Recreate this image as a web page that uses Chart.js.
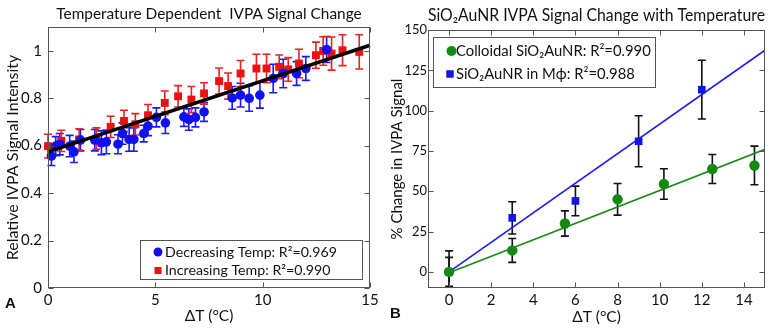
<!DOCTYPE html>
<html>
<head>
<meta charset="utf-8">
<script src="https://cdn.jsdelivr.net/npm/chart.js@4.4.0/dist/chart.umd.min.js"></script>
<style>
  body { margin: 0; background: #fff; }
  .panel { position: absolute; top: 0; height: 330px; }
  #boxA { left: 0; width: 388px; }
  #boxB { left: 388px; width: 385px; }
  .tag { position: absolute; font: bold 15px "Liberation Sans", Arial, sans-serif; line-height: 15px; color: #111; }
</style>
</head>
<body>
<div id="boxA" class="panel"><canvas id="chartA" width="388" height="330"></canvas></div>
<div id="boxB" class="panel"><canvas id="chartB" width="385" height="330"></canvas></div>
<div class="tag" style="left:5px; top:295px">A</div>
<div class="tag" style="left:390px; top:305px">B</div>
<script>
// Panel A - decreasing / increasing temperature runs
const decX = [0.16, 0.36, 0.55, 1.01, 1.21, 1.51, 2.18, 2.49, 2.72, 3.26, 3.47, 3.78, 4.0, 4.46, 4.66, 5.05, 5.47, 6.33, 6.56, 6.87, 7.27, 8.58, 8.97, 9.37, 9.87, 10.49, 10.96, 11.58, 12.01, 12.98];
const decY = [0.556, 0.598, 0.606, 0.598, 0.574, 0.623, 0.623, 0.612, 0.616, 0.606, 0.651, 0.626, 0.626, 0.651, 0.682, 0.719, 0.696, 0.721, 0.71, 0.719, 0.742, 0.801, 0.813, 0.799, 0.813, 0.883, 0.904, 0.904, 0.925, 1.005];
const decErr = [0.04, 0.04, 0.045, 0.045, 0.045, 0.045, 0.045, 0.05, 0.05, 0.04, 0.045, 0.05, 0.05, 0.035, 0.04, 0.04, 0.045, 0.04, 0.045, 0.04, 0.04, 0.048, 0.05, 0.054, 0.055, 0.06, 0.06, 0.05, 0.05, 0.055];

const incX = [0.0, 0.62, 1.45, 2.26, 2.92, 3.54, 4.07, 4.66, 5.44, 6.06, 6.68, 7.27, 7.97, 8.39, 8.97, 9.71, 10.18, 10.77, 11.19, 11.69, 12.48, 12.82, 13.21, 13.72, 14.5];
const incY = [0.598, 0.62, 0.626, 0.63, 0.679, 0.704, 0.69, 0.728, 0.78, 0.808, 0.794, 0.82, 0.872, 0.851, 0.904, 0.925, 0.925, 0.932, 0.921, 0.946, 0.981, 0.999, 0.988, 1.002, 0.995];
const incErr = [0.05, 0.045, 0.045, 0.045, 0.045, 0.045, 0.045, 0.045, 0.05, 0.045, 0.055, 0.045, 0.055, 0.055, 0.055, 0.06, 0.06, 0.05, 0.05, 0.06, 0.055, 0.06, 0.07, 0.065, 0.072];

const fitAX = [0, 15];
const fitAY = [0.574, 1.023];
const xTicksA = [0, 5, 10, 15];
const yTicksA = [0, 0.2, 0.4, 0.6, 0.8, 1];

// Panel B - colloidal vs macrophage SiO2AuNR
const colX = [0, 3, 5.5, 8, 10.2, 12.5, 14.5];
const colY = [0, 13.3, 30, 45, 54.5, 63.8, 66];
const colErr = [9, 7.4, 7.8, 9.8, 9.5, 9, 12];
const mphX = [0, 3, 6, 9, 12];
const mphY = [0, 33.5, 44, 81, 113];
const mphErr = [13, 10, 9.2, 15.8, 18.2];

const fitBX = [0, 15];
const fitColY = [-0.5, 76];
const fitMphY = [0, 137.5];
const xTicksB = [0, 2, 4, 6, 8, 10, 12, 14];
const yTicksB = [0, 25, 50, 75, 100, 125, 150];

const pts = (xs, ys) => xs.map((x, i) => ({ x: x, y: ys[i] }));

Chart.defaults.font.family = 'Lato, "Noto Sans", sans-serif';
Chart.defaults.color = '#111';

// error bars under the markers
const errorBars = {
  id: 'errorBars',
  beforeDatasetsDraw(chart, args, o) {
    const { ctx, chartArea: a, scales: { x, y } } = chart;
    ctx.save();
    ctx.beginPath();
    ctx.rect(a.left - 10, a.top, a.right - a.left + 20, a.bottom - a.top);
    ctx.clip();
    ctx.lineWidth = o.width;
    chart.data.datasets.forEach(ds => {
      if (!ds.errors) return;
      ctx.strokeStyle = ds.errorColor;
      ds.data.forEach((p, i) => {
        const px = x.getPixelForValue(p.x);
        const top = y.getPixelForValue(p.y + ds.errors[i]);
        const bot = y.getPixelForValue(p.y - ds.errors[i]);
        ctx.beginPath();
        ctx.moveTo(px, top); ctx.lineTo(px, bot);
        ctx.moveTo(px - o.cap, top); ctx.lineTo(px + o.cap, top);
        ctx.moveTo(px - o.cap, bot); ctx.lineTo(px + o.cap, bot);
        ctx.stroke();
      });
    });
    ctx.restore();
  }
};

// box around the plot with inward ticks on all sides
const frame = {
  id: 'frame',
  afterDatasetsDraw(chart, args, o) {
    const { ctx, chartArea: a, scales: { x, y } } = chart;
    const L = Math.round(a.left) + 0.5, R = Math.round(a.right) - 0.5;
    const T = Math.round(a.top) + 0.5, B = Math.round(a.bottom) - 0.5;
    ctx.save();
    ctx.strokeStyle = o.color;
    ctx.lineWidth = 1;
    ctx.strokeRect(L, T, R - L, B - T);
    ctx.beginPath();
    x.ticks.forEach(t => {
      const px = Math.round(x.getPixelForValue(t.value)) + 0.5;
      ctx.moveTo(px, B); ctx.lineTo(px, B - o.len);
      ctx.moveTo(px, T); ctx.lineTo(px, T + o.len);
    });
    y.ticks.forEach(t => {
      const py = Math.round(y.getPixelForValue(t.value)) + 0.5;
      ctx.moveTo(L, py); ctx.lineTo(L + o.len, py);
      ctx.moveTo(R, py); ctx.lineTo(R - o.len, py);
    });
    ctx.stroke();
    ctx.restore();
  }
};

const legendBox = {
  id: 'legendBox',
  afterDraw(chart, args, o) {
    const ctx = chart.ctx;
    ctx.save();
    ctx.fillStyle = '#fff';
    ctx.fillRect(o.x, o.y, o.w, o.h);
    ctx.strokeStyle = '#555';
    ctx.lineWidth = 1;
    ctx.strokeRect(o.x + 0.5, o.y + 0.5, o.w, o.h);
    ctx.font = o.font;
    ctx.textBaseline = 'middle';
    o.items.forEach(it => {
      const ds = chart.data.datasets[it.ds];
      ctx.fillStyle = ds.backgroundColor;
      if (ds.pointStyle === 'rect') {
        ctx.fillRect(it.mx - it.s / 2, it.y - it.s / 2, it.s, it.s);
      } else {
        ctx.beginPath();
        ctx.arc(it.mx, it.y, it.s / 2, 0, Math.PI * 2);
        ctx.fill();
      }
      ctx.fillStyle = '#111';
      ctx.fillText(ds.label, it.tx, it.y);
    });
    ctx.restore();
  }
};

function fixedTicks(values) {
  return s => { s.ticks = values.map(v => ({ value: v })); };
}

new Chart(document.getElementById('chartA'), {
  type: 'scatter',
  data: {
    datasets: [
      {
        label: 'fit',
        data: pts(fitAX, fitAY),
        showLine: true,
        borderColor: '#000',
        borderWidth: 3.5,
        pointRadius: 0,
        clip: false,
      },
      {
        label: 'Decreasing Temp: R\u00b2=0.969',
        data: pts(decX, decY),
        errors: decErr,
        errorColor: '#1a1aff',
        backgroundColor: '#1010f0',
        borderWidth: 0,
        pointStyle: 'circle',
        pointRadius: 4.8,
        clip: false,
      },
      {
        label: 'Increasing Temp: R\u00b2=0.990',
        data: pts(incX, incY),
        errors: incErr,
        errorColor: '#ee2020',
        backgroundColor: '#ee1111',
        borderWidth: 0,
        pointStyle: 'rect',
        pointRadius: 5.6,
        clip: false,
      },
    ],
  },
  options: {
    responsive: false,
    animation: false,
    layout: { padding: { left: 0, right: 18, top: 0, bottom: 0 } },
    scales: {
      x: {
        type: 'linear', min: 0, max: 15,
        afterBuildTicks: fixedTicks(xTicksA),
        afterFit: s => { s.height = 42; },
        grid: { display: false, drawTicks: false },
        border: { display: false },
        ticks: { font: { size: 15 }, padding: 3, maxRotation: 0, callback: v => String(v) },
        title: { display: true, text: '\u0394T (\u00b0C)', font: { size: 15.5 }, padding: { top: 0, bottom: 5 } },
      },
      y: {
        type: 'linear', min: 0, max: 1.1,
        afterBuildTicks: fixedTicks(yTicksA),
        afterFit: s => { s.width = 48; },
        grid: { display: false, drawTicks: false },
        border: { display: false },
        ticks: { font: { size: 15 }, padding: 6, callback: v => String(v) },
        title: { display: true, text: 'Relative IVPA Signal Intensity', font: { size: 16 }, padding: { top: 3, bottom: 0 } },
      },
    },
    plugins: {
      legend: { display: false },
      tooltip: { enabled: false },
      title: {
        display: true, fullSize: false,
        text: 'Temperature Dependent  IVPA Signal Change',
        font: { size: 15.4, weight: 'normal' }, color: '#111',
        padding: { top: 4.4, bottom: 4.1 },
      },
      errorBars: { width: 1.6, cap: 4 },
      frame: { color: '#555', len: 5 },
      legendBox: {
        x: 140, y: 240, w: 222, h: 39, font: '14.2px Lato, "Noto Sans", sans-serif',
        items: [
          { ds: 1, mx: 158, tx: 165, y: 252, s: 9 },
          { ds: 2, mx: 158, tx: 165, y: 270.5, s: 7 },
        ],
      },
    },
  },
  plugins: [errorBars, frame, legendBox],
});

new Chart(document.getElementById('chartB'), {
  type: 'scatter',
  data: {
    datasets: [
      {
        label: 'Colloidal SiO\u2082AuNR: R\u00b2=0.990',
        data: pts(colX, colY),
        errors: colErr,
        errorColor: '#111',
        backgroundColor: '#128a12',
        borderWidth: 0,
        pointStyle: 'circle',
        pointRadius: 5.2,
        clip: false,
      },
      {
        label: 'SiO\u2082AuNR in M\u03d5: R\u00b2=0.988',
        data: pts(mphX, mphY),
        errors: mphErr,
        errorColor: '#111',
        backgroundColor: '#1414ee',
        borderWidth: 0,
        pointStyle: 'rect',
        pointRadius: 5.4,
        clip: false,
      },
      {
        label: 'colloidal fit',
        data: pts(fitBX, fitColY),
        showLine: true,
        borderColor: '#1b8a1b',
        borderWidth: 1.6,
        pointRadius: 0,
      },
      {
        label: 'macrophage fit',
        data: pts(fitBX, fitMphY),
        showLine: true,
        borderColor: '#1a1aff',
        borderWidth: 1.6,
        pointRadius: 0,
      },
    ],
  },
  options: {
    responsive: false,
    animation: false,
    layout: { padding: { left: 0, right: 8, top: 0, bottom: 0 } },
    scales: {
      x: {
        type: 'linear', min: -1, max: 15,
        afterBuildTicks: fixedTicks(xTicksB),
        afterFit: s => { s.height = 42; },
        grid: { display: false, drawTicks: false },
        border: { display: false },
        ticks: { font: { size: 15 }, padding: 3, maxRotation: 0, callback: v => String(v) },
        title: { display: true, text: '\u0394T (\u00b0C)', font: { size: 15.5 }, padding: { top: 0, bottom: 4 } },
      },
      y: {
        type: 'linear', min: -10, max: 150,
        afterBuildTicks: fixedTicks(yTicksB),
        afterFit: s => { s.width = 40; },
        grid: { display: false, drawTicks: false },
        border: { display: false },
        ticks: { font: { size: 13 }, padding: 1, callback: v => String(v) },
        title: { display: true, text: '% Change in IVPA Signal', font: { size: 15, lineHeight: 1 }, padding: { top: 2, bottom: 0 } },
      },
    },
    plugins: {
      legend: { display: false },
      tooltip: { enabled: false },
      title: {
        display: true, fullSize: false,
        text: 'SiO\u2082AuNR IVPA Signal Change with Temperature',
        font: { size: 17, weight: 'normal' }, color: '#111',
        padding: { top: 5, bottom: 4.6 },
      },
      errorBars: { width: 1.6, cap: 4 },
      frame: { color: '#555', len: 5 },
      legendBox: {
        x: 45, y: 37, w: 222, h: 50, font: '14.8px Lato, "Noto Sans", sans-serif',
        items: [
          { ds: 0, mx: 63.5, tx: 68, y: 51, s: 10 },
          { ds: 1, mx: 62, tx: 68, y: 74, s: 7.5 },
        ],
      },
    },
  },
  plugins: [errorBars, frame, legendBox],
});
</script>
</body>
</html>
